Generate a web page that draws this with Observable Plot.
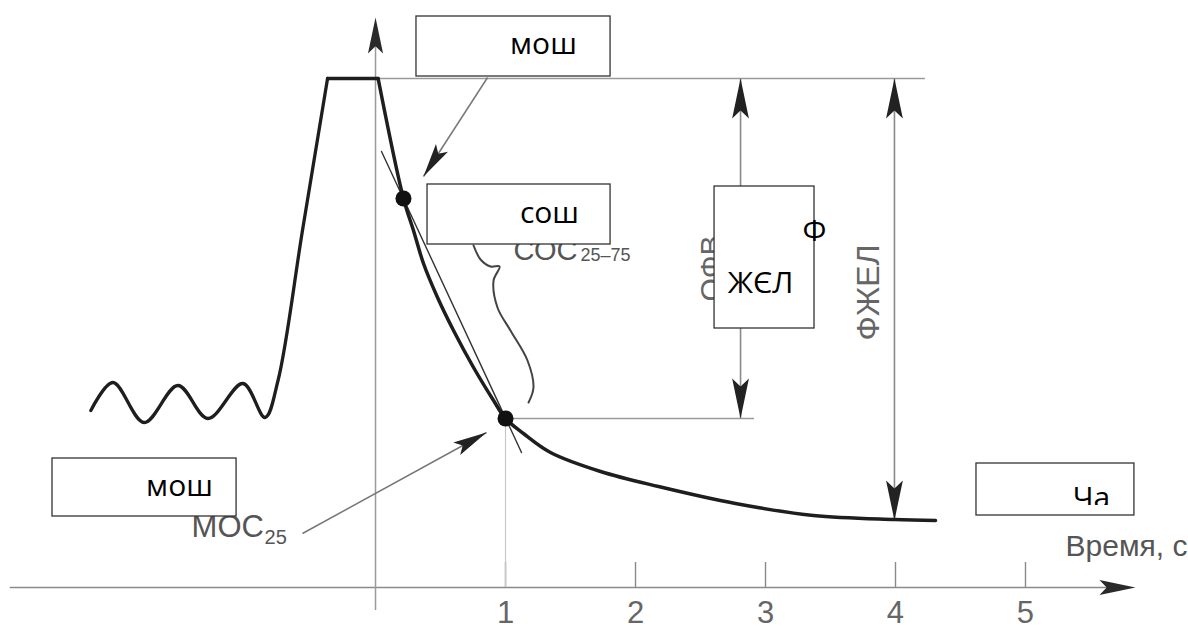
<!DOCTYPE html>
<html>
<head>
<meta charset="utf-8">
<script src="https://cdn.jsdelivr.net/npm/d3@7"></script>
<script src="https://cdn.jsdelivr.net/npm/@observablehq/plot@0.6"></script>
<style>
  html, body { margin: 0; padding: 0; background: #fff; }
  #chart svg { display: block; }
</style>
</head>
<body>
<div id="chart"></div>
<script>
// ---- Spirogram of a forced expiration (time in s, volume in relative units) ----
const X_DOMAIN = [-2.885, 6.254];
const Y_DOMAIN = [-0.52, 5.87];
const W = 1188, H = 639;

// quiet (tidal) breathing followed by the maximal inspiration
const tidalTime   = [-2.19, -2.02, -1.78, -1.52, -1.29, -1.02, -0.85, -0.75, -0.562, -0.369];
const tidalVolume = [ 1.77,  2.05,  1.65,  2.02,  1.69,  2.04,  1.70,  2.07,  3.57,   5.09];
// breath hold at full inspiration
const holdTime   = [-0.369, 0.02];
const holdVolume = [ 5.09,  5.09];
// forced expiration
const expTime   = [0.02, 0.215, 0.292, 0.369, 0.477, 0.600, 0.754, 0.908, 1.0, 1.138, 1.346, 1.731, 2.177, 2.769, 3.369, 3.992, 4.308];
const expVolume = [5.09, 3.89,  3.57,  3.24,  2.90,  2.57,  2.20,  1.87,  1.69, 1.54,  1.35,  1.16,  1.01,  0.84,  0.72,  0.68,  0.67];
// marked points (25% and 75% of FVC exhaled)
const keyTime   = [0.215, 1.0];
const keyVolume = [3.89, 1.69];
// chord through the marked points (FEF 25-75)
const chordTime   = [0.046, 1.123];
const chordVolume = [4.36, 1.35];
// brace for the FEF25-75 label
const braceTime   = [0.754, 0.808, 0.885, 0.954, 0.908, 0.938, 1.038, 1.169, 1.215, 1.177];
const braceVolume = [3.42, 3.28, 3.21, 3.21, 3.07, 2.80, 2.57, 2.27, 2.00, 1.85];
// axis ticks
const tickValues = [1, 2, 3, 4, 5];
const tickLabels = ["1", "2", "3", "4", "5"];
// reference (horizontal) lines
const refStartTime = [0.02, 1.0];
const refEndTime   = [4.23, 2.915];
const refVolume    = [5.09, 1.69];
// dimension arrows: FEV1 and FVC
const dimTime   = [2.808, 3.992];
const dimTop    = [5.09, 5.09];
const dimBottom = [1.69, 0.67];
// pointer arrows (PEF and FEF25)
const pointerFromTime = [0.862, -0.562];
const pointerFromVol  = [5.10, 0.54];
const pointerTipTime  = [0.369, 0.854];
const pointerTipVol   = [4.11, 1.55];
// original (scanned) labels
const scanLabels = ["СОС", "25–75", "МОС", "25", "Время, с"];
const scanTime   = [1.062, 1.577, -1.415, -0.854, 6.246];
const scanVol    = [3.37, 3.32, 0.60, 0.50, 0.41];
const rotLabels  = ["ОФВ", "ФЖЕЛ"];
const rotTime    = [2.585, 3.792];
const rotVol     = [3.19, 2.95];
// overlay boxes with translated labels
const boxLeft   = [0.315, 0.40, -2.485, 2.608, 4.623];
const boxRight  = [1.808, 1.808, -1.069, 3.377, 5.838];
const boxTop    = [5.71, 4.03, 1.29, 4.01, 1.24];
const boxBottom = [5.11, 3.43, 0.71, 2.59, 0.72];
const boxTexts    = ["мош", "сош", "мош", "Ф", "ЖЄЛ", "Ча"];
const boxTextTime = [1.292, 1.338, -1.508, 3.377, 2.962, 5.508];
const boxTextVol  = [5.43, 3.74, 1.01, 3.56, 3.04, 0.89];

// ---- helpers ----
const zip = (xs, ys) => xs.map((x, i) => ({x, y: ys[i]}));
const sx = Plot.scale({x: {domain: X_DOMAIN, range: [0, W]}});
const sy = Plot.scale({y: {domain: Y_DOMAIN, range: [H, 0]}});
const heading = (x0, y0, x1, y1) => {
  const dx = sx.apply(x1) - sx.apply(x0), dy = sy.apply(y1) - sy.apply(y0);
  return Math.atan2(dx, -dy) * 180 / Math.PI;
};
// filled, notched arrow head with its tip at the anchor, pointing "up" before rotation
const arrowHead = {
  draw(ctx, size) {
    const L = Math.sqrt(size / Math.PI), w = L * 0.21;
    ctx.moveTo(0, 0);
    ctx.lineTo(-w, L);
    ctx.lineTo(0, L * 0.8);
    ctx.lineTo(w, L);
    ctx.closePath();
  }
};

const tidal = zip(tidalTime, tidalVolume);
const hold = zip(holdTime, holdVolume);
const exp = zip(expTime, expVolume);
const keys = zip(keyTime, keyVolume);
const brace = zip(braceTime, braceVolume);
const refs = refVolume.map((v, i) => ({x1: refStartTime[i], x2: refEndTime[i], y: v}));
const dims = dimTime.map((t, i) => ({x: t, y1: dimTop[i], y2: dimBottom[i]}));
const pointers = pointerTipTime.map((t, i) => ({
  x1: pointerFromTime[i], y1: pointerFromVol[i], x2: t, y2: pointerTipVol[i],
  a: heading(pointerFromTime[i], pointerFromVol[i], t, pointerTipVol[i])
}));
const dimHeads = dims.flatMap(d => [
  {x: d.x, y: d.y1, a: heading(d.x, d.y2, d.x, d.y1)},
  {x: d.x, y: d.y2, a: heading(d.x, d.y1, d.x, d.y2)}
]);
const xAxisEnd = 5.846, yAxisEnd = 5.70;
const axisHeads = [
  {x: 0, y: yAxisEnd, a: heading(0, 0, 0, yAxisEnd)},
  {x: xAxisEnd, y: 0, a: heading(0, 0, xAxisEnd, 0)}
];
const scans = scanLabels.map((s, i) => ({s, x: scanTime[i], y: scanVol[i]}));
const rots = rotLabels.map((s, i) => ({s, x: rotTime[i], y: rotVol[i]}));
const boxes = boxLeft.map((l, i) => ({x1: l, x2: boxRight[i], y1: boxBottom[i], y2: boxTop[i]}));
const boxLabels = boxTexts.map((s, i) => ({s, x: boxTextTime[i], y: boxTextVol[i]}));

const SCAN_FONT = "Liberation Sans, Arial, sans-serif";
const BOX_FONT = "Open Sans, Noto Sans, sans-serif";

const chart = Plot.plot({
  width: W, height: H, margin: 0,
  style: {background: "#fff", overflow: "visible"},
  x: {domain: X_DOMAIN, axis: null},
  y: {domain: Y_DOMAIN, axis: null},
  marks: [
    // axes
    Plot.ruleY([0], {x1: -2.81, x2: xAxisEnd - 0.1, stroke: "#8a8a8a", strokeWidth: 1.6}),
    Plot.ruleX([0], {y1: -0.23, y2: yAxisEnd - 0.1, stroke: "#9a9a9a", strokeWidth: 1.5}),
    Plot.ruleX(tickValues, {y1: 0, y2: 0.25, stroke: "#8a8a8a", strokeWidth: 1.4}),
    Plot.text(tickValues, {x: d => d, y: -0.26, text: (d, i) => tickLabels[i],
      fontSize: 31, fontFamily: SCAN_FONT, fill: "#666"}),
    // faint drop line from the 75% point
    Plot.ruleX([keyTime[1]], {y1: 0, y2: keyVolume[1], stroke: "#c8c8c8", strokeWidth: 1.2}),
    // horizontal reference lines
    Plot.ruleY(refs, {x1: "x1", x2: "x2", y: "y", stroke: "#9a9a9a", strokeWidth: 1.6}),
    // dimension arrows
    Plot.ruleX(dims, {x: "x", y1: "y1", y2: "y2", stroke: "#8a8a8a", strokeWidth: 1.6}),
    // chord
    Plot.line(zip(chordTime, chordVolume), {x: "x", y: "y", stroke: "#333", strokeWidth: 1.4}),
    // spirogram
    Plot.line(tidal, {x: "x", y: "y", curve: "catmull-rom", stroke: "#1e1e1e", strokeWidth: 3.3}),
    Plot.line(hold, {x: "x", y: "y", stroke: "#1e1e1e", strokeWidth: 3.3}),
    Plot.line(exp, {x: "x", y: "y", curve: "catmull-rom", stroke: "#1e1e1e", strokeWidth: 3.5}),
    Plot.dot(keys, {x: "x", y: "y", r: 8, fill: "#111", stroke: "none"}),
    // brace
    Plot.line(brace, {x: "x", y: "y", curve: "catmull-rom", stroke: "#444", strokeWidth: 2}),
    // pointers
    Plot.link(pointers, {x1: "x1", y1: "y1", x2: "x2", y2: "y2", stroke: "#777", strokeWidth: 1.5}),
    // arrow heads
    Plot.dot(pointers, {x: "x2", y: "y2", rotate: "a", symbol: arrowHead, r: 34, fill: "#222", stroke: "none"}),
    Plot.dot(dimHeads, {x: "x", y: "y", rotate: "a", symbol: arrowHead, r: 40, fill: "#222", stroke: "none"}),
    Plot.dot(axisHeads, {x: "x", y: "y", rotate: "a", symbol: arrowHead, r: 36, fill: "#2a2a2a", stroke: "none"}),
    // original labels
    Plot.text(scans.slice(0, 2), {x: "x", y: "y", text: "s", textAnchor: "start",
      fontSize: (d, i) => i === 0 ? 29 : 18, fontFamily: SCAN_FONT, fill: "#555"}),
    Plot.text(scans.slice(2, 4), {x: "x", y: "y", text: "s", textAnchor: "start",
      fontSize: (d, i) => i === 0 ? 31 : 20, fontFamily: SCAN_FONT, fill: "#555"}),
    Plot.text(scans.slice(4), {x: "x", y: "y", text: "s", textAnchor: "end",
      fontSize: 30, fontFamily: SCAN_FONT, fill: "#555"}),
    Plot.text(rots, {x: "x", y: "y", text: "s", rotate: -90,
      fontSize: (d, i) => i === 0 ? 30 : 32, fontFamily: SCAN_FONT, fill: "#666"}),
    // overlay boxes
    Plot.rect(boxes, {x1: "x1", x2: "x2", y1: "y1", y2: "y2", fill: "#fff", stroke: "#333", strokeWidth: 1.3}),
    Plot.text(boxLabels, {x: "x", y: "y", text: "s", fontSize: 30, fontFamily: BOX_FONT, fill: "#000"}),
    // the last box clips its text at the bottom
    Plot.rect([{x1: 5.269, x2: 5.769, y1: 0.735, y2: 0.82}], {x1: "x1", x2: "x2", y1: "y1", y2: "y2", fill: "#fff"})
  ]
});
document.getElementById("chart").append(chart);
</script>
</body>
</html>
